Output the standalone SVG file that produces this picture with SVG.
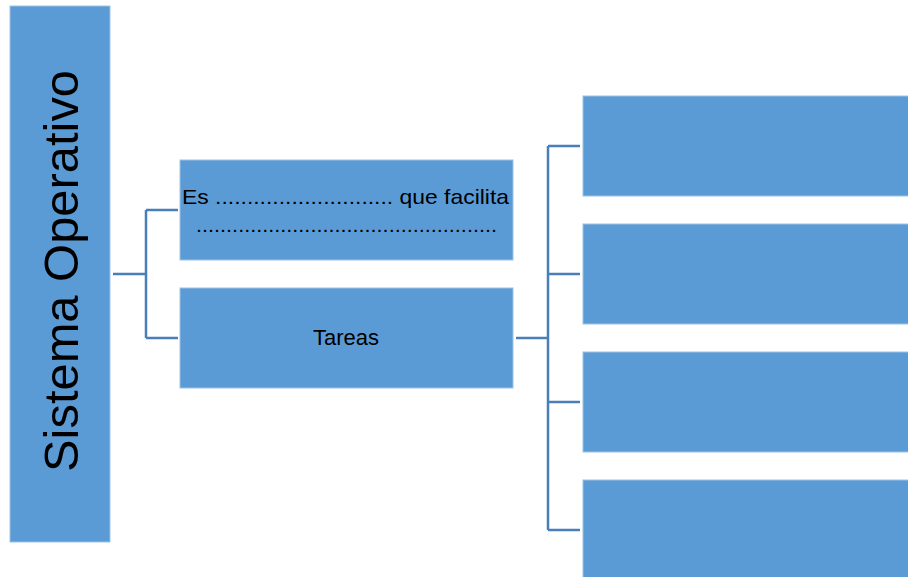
<svg xmlns="http://www.w3.org/2000/svg" width="908" height="577" viewBox="0 0 908 577">
<style>
.box{fill:#5B9BD5;stroke:#9DC3E6;stroke-width:1}
.conn{fill:none;stroke:#4A7EBB;stroke-width:2.5}
.t{font-family:"Liberation Sans",Arial,sans-serif;fill:#000}
</style>
<rect width="908" height="577" fill="#fff"/>
<g id="connectors">
<path class="conn" d="M113 274H146M146 210V338M146 210H178M146 338H178"/>
<path class="conn" d="M516 338H548M548 146V530M548 146H580M548 274H580M548 402H580M548 530H580"/>
</g>
<g id="node-sistema">
<rect class="box" x="10" y="6" width="100" height="536"/>
<text class="t" font-size="49" transform="translate(78 472) rotate(-90)" textLength="402" lengthAdjust="spacingAndGlyphs">Sistema Operativo</text>
</g>
<g id="node-es">
<rect class="box" x="180" y="160" width="333" height="100"/>
<text class="t" font-size="21" x="182" y="204" textLength="327" lengthAdjust="spacingAndGlyphs">Es  ............................ que facilita</text>
<text class="t" font-size="21" x="196" y="232" textLength="301" lengthAdjust="spacingAndGlyphs">..................................................</text>
</g>
<g id="node-tareas">
<rect class="box" x="180" y="288" width="333" height="100"/>
<text class="t" font-size="22" x="346" y="345" text-anchor="middle">Tareas</text>
</g>
<g id="node-r1"><rect class="box" x="583" y="96" width="330" height="100"/></g>
<g id="node-r2"><rect class="box" x="583" y="224" width="330" height="100"/></g>
<g id="node-r3"><rect class="box" x="583" y="352" width="330" height="100"/></g>
<g id="node-r4"><rect class="box" x="583" y="480" width="330" height="100"/></g>
</svg>
